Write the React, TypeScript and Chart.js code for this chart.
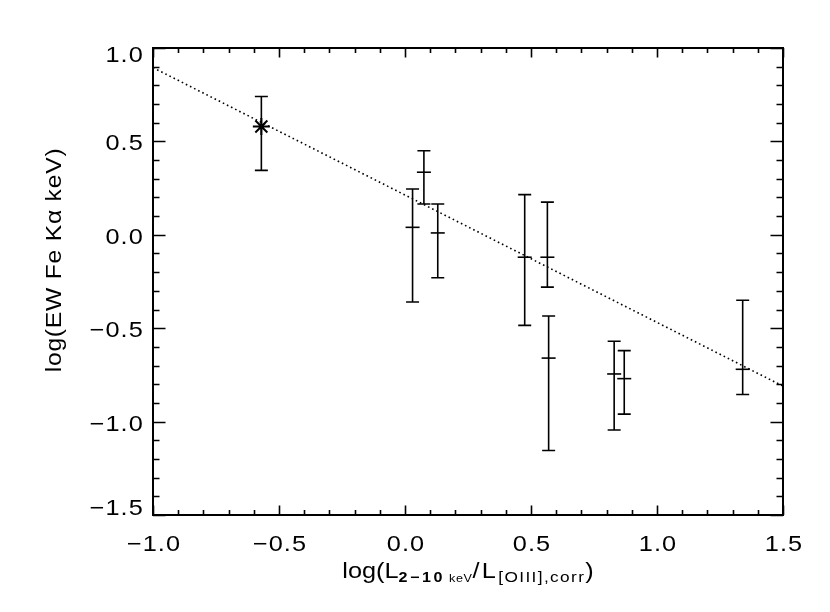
import { useEffect, useRef } from "react";
import { Chart, registerables, type ChartConfiguration, type Plugin } from "chart.js";

Chart.register(...registerables);

const xValues = [-0.57, 0.03, 0.075, 0.13, 0.475, 0.565, 0.57, 0.83, 0.87, 1.34];
const yValues = [0.58, 0.04, 0.335, 0.01, -0.12, -0.12, -0.66, -0.745, -0.77, -0.72];
const yHigh = [0.74, 0.245, 0.45, 0.165, 0.215, 0.175, -0.435, -0.57, -0.62, -0.35];
const yLow = [0.345, -0.36, 0.165, -0.23, -0.485, -0.28, -1.155, -1.045, -0.96, -0.855];
const pointStyles = ["star", "line", "line", "line", "line", "line", "line", "line", "line", "line"];

// dotted fit line end points
const fitX = [-1.0, 1.5];
const fitY = [0.895, -0.81];

const xTicks = [-1.0, -0.5, 0.0, 0.5, 1.0, 1.5];
const yTicks = [-1.5, -1.0, -0.5, 0.0, 0.5, 1.0];

const FONT = '"Liberation Sans", Arial, sans-serif';
const STRETCH = 1.15;

function fmt(v: number) {
  return v.toFixed(1).replace("-", "\u2212");
}

// IDL's vector font is wider than Helvetica, so stretch text horizontally
function wideText(
  ctx: CanvasRenderingContext2D,
  text: string,
  x: number,
  y: number,
  sx = STRETCH,
) {
  ctx.save();
  ctx.translate(x, y);
  ctx.scale(sx, 1);
  ctx.fillText(text, 0, 0);
  ctx.restore();
}

const idlAxes: Plugin<"scatter"> = {
  id: "idlAxes",
  beforeDatasetsDraw(chart) {
    const { ctx, scales } = chart;
    const x = scales.x;
    const y = scales.y;
    ctx.save();
    ctx.strokeStyle = "#000";
    ctx.lineWidth = 1.6;
    xValues.forEach((xv, i) => {
      const px = x.getPixelForValue(xv);
      const top = y.getPixelForValue(yHigh[i]);
      const bot = y.getPixelForValue(yLow[i]);
      ctx.beginPath();
      ctx.moveTo(px, top);
      ctx.lineTo(px, bot);
      ctx.moveTo(px - 6.5, top);
      ctx.lineTo(px + 6.5, top);
      ctx.moveTo(px - 6.5, bot);
      ctx.lineTo(px + 6.5, bot);
      ctx.stroke();
    });
    ctx.restore();
  },
  afterDraw(chart) {
    const { ctx, chartArea: a, scales } = chart;
    const x = scales.x;
    const y = scales.y;
    ctx.save();
    ctx.strokeStyle = "#000";
    ctx.fillStyle = "#000";

    // inward ticks on all four sides
    ctx.lineWidth = 1.6;
    ctx.beginPath();
    for (let k = -10; k <= 15; k++) {
      const px = Math.round(x.getPixelForValue(k / 10)) + 0.5;
      const len = k % 5 === 0 ? 9.5 : 5;
      ctx.moveTo(px, a.bottom);
      ctx.lineTo(px, a.bottom - len);
      ctx.moveTo(px, a.top);
      ctx.lineTo(px, a.top + len);
    }
    for (let k = -15; k <= 10; k++) {
      const py = Math.round(y.getPixelForValue(k / 10)) + 0.5;
      const len = k % 5 === 0 ? 12.5 : 6.5;
      ctx.moveTo(a.left, py);
      ctx.lineTo(a.left + len, py);
      ctx.moveTo(a.right, py);
      ctx.lineTo(a.right - len, py);
    }
    ctx.stroke();

    // frame
    ctx.lineWidth = 2;
    ctx.strokeRect(a.left, a.top, a.right - a.left, a.bottom - a.top);

    // tick labels
    ctx.font = `22px ${FONT}`;
    (ctx as any).letterSpacing = "1px";
    ctx.textBaseline = "middle";
    ctx.textAlign = "center";
    xTicks.forEach((v) => {
      wideText(ctx, fmt(v), x.getPixelForValue(v) + 1, a.bottom + 30);
    });
    ctx.textAlign = "right";
    yTicks.forEach((v, i) => {
      let off = 3;
      if (i === 0) off = -6;
      if (i === yTicks.length - 1) off = 8;
      wideText(ctx, fmt(v), a.left - 9, y.getPixelForValue(v) + off);
    });

    // y title
    ctx.save();
    ctx.translate(61, 260);
    ctx.rotate(-Math.PI / 2);
    ctx.textAlign = "center";
    ctx.textBaseline = "alphabetic";
    (ctx as any).letterSpacing = "0.7px";
    wideText(ctx, "log(EW Fe K\u03b1 keV)", 0, 0, 1.12);
    ctx.restore();

    // x title with subscripts
    const parts: { t: string; font: string; sp: string; dy: number }[] = [
      { t: "log(L", font: `22px ${FONT}`, sp: "0px", dy: 0 },
      { t: "2\u221210", font: `bold 14px ${FONT}`, sp: "2.2px", dy: 4 },
      { t: " keV", font: `11px ${FONT}`, sp: "0.5px", dy: 4 },
      { t: "/L", font: `22px ${FONT}`, sp: "2px", dy: 0 },
      { t: "[OIII],corr", font: `15px ${FONT}`, sp: "1.2px", dy: 4 },
      { t: ")", font: `22px ${FONT}`, sp: "0px", dy: 0 },
    ];
    ctx.textAlign = "left";
    ctx.textBaseline = "alphabetic";
    let total = 0;
    const widths = parts.map((p) => {
      ctx.font = p.font;
      (ctx as any).letterSpacing = p.sp;
      const w = ctx.measureText(p.t).width * STRETCH;
      total += w;
      return w;
    });
    let cx = (a.left + a.right) / 2 - total / 2;
    parts.forEach((p, i) => {
      ctx.font = p.font;
      (ctx as any).letterSpacing = p.sp;
      wideText(ctx, p.t, cx, 578 + p.dy);
      cx += widths[i];
    });

    ctx.restore();
  },
};

export default function App() {
  const canvasRef = useRef<HTMLCanvasElement>(null);

  useEffect(() => {
    document.body.style.margin = "0";
    if (!canvasRef.current) {
      return;
    }

    const config: ChartConfiguration<"scatter"> = {
      type: "scatter",
      data: {
        datasets: [
          {
            type: "line" as any,
            data: fitX.map((v, i) => ({ x: v, y: fitY[i] })),
            borderColor: "#000",
            borderWidth: 1.6,
            borderDash: [1.6, 3],
            pointRadius: 0,
            showLine: true,
            fill: false,
          } as any,
          {
            data: xValues.map((v, i) => ({ x: v, y: yValues[i] })),
            pointStyle: pointStyles as any,
            pointRadius: pointStyles.map((s) => (s === "star" ? 8.5 : 7)),
            pointBorderWidth: pointStyles.map((s) => (s === "star" ? 2 : 1.6)),
            borderColor: "#000",
            backgroundColor: "#000",
          },
        ],
      },
      options: {
        animation: false,
        responsive: true,
        maintainAspectRatio: false,
        events: [],
        layout: {
          padding: { left: 153, top: 48, right: 47, bottom: 97 },
        },
        plugins: {
          legend: { display: false },
          tooltip: { enabled: false },
        },
        scales: {
          x: { type: "linear", min: -1.0, max: 1.5, display: false },
          y: { type: "linear", min: -1.5, max: 1.0, display: false },
        },
      },
      plugins: [idlAxes],
    };

    const chart = new Chart(canvasRef.current, config);

    return () => {
      chart.destroy();
    };
  }, []);

  return (
    <div style={{ width: 830, height: 612, background: "#fff" }}>
      <canvas ref={canvasRef} />
    </div>
  );
}
